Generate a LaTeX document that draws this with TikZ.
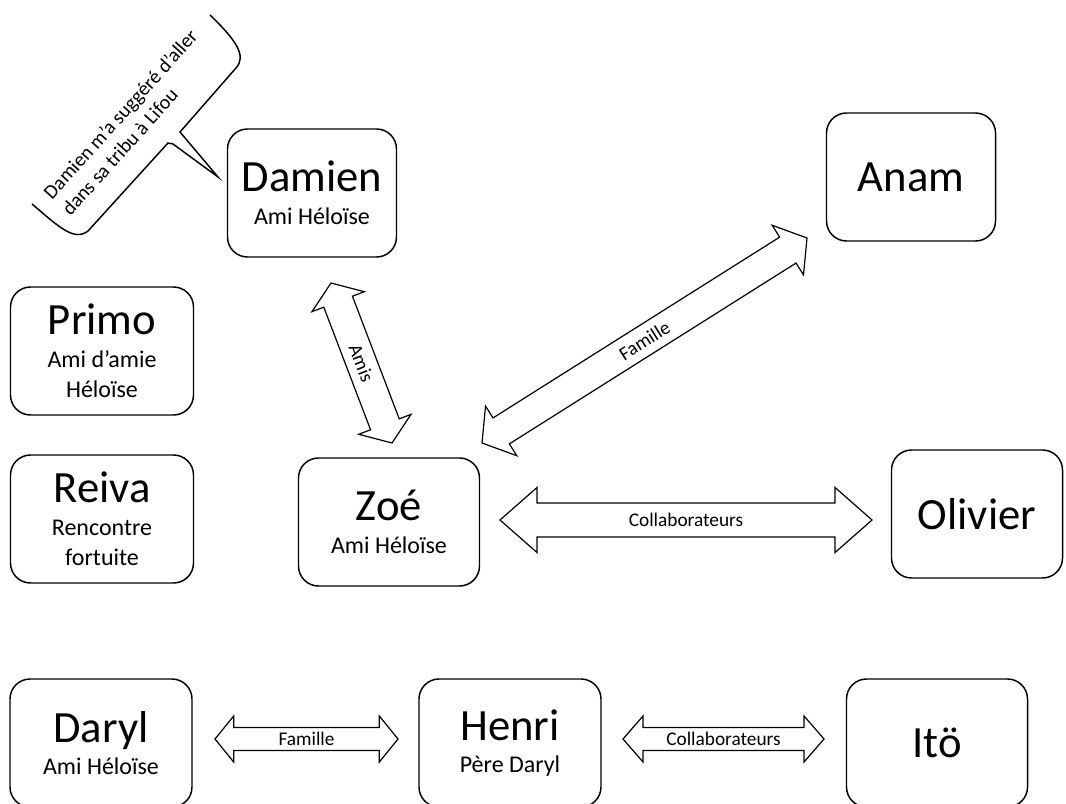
\documentclass[tikz,border=0pt]{standalone}
\usepackage{fontspec}
\setmainfont{Carlito}
\usepackage{tikz}
\usetikzlibrary{calc}

\newcommand{\titre}{\fontsize{33.5}{40}\selectfont}
\newcommand{\sous}{\fontsize{18}{22.5}\selectfont}
\newcommand{\etiquette}{\fontsize{14.5}{17.5}\selectfont}
\newcommand{\bulletexte}{\fontsize{15}{18.5}\selectfont}

\newcommand{\fleche}[6]{%
	\coordinate (#1-b) at ($(#1)!#5!(#2)$);
	\coordinate (#2-b) at ($(#2)!#5!(#1)$);
	\draw[lien] (#1)
		-- ($(#1-b)!#4!90:(#2)$) -- ($(#1-b)!#3!90:(#2)$)
		-- ($(#2-b)!#3!-90:(#1)$) -- ($(#2-b)!#4!-90:(#1)$)
		-- (#2)
		-- ($(#2-b)!#4!90:(#1)$) -- ($(#2-b)!#3!90:(#1)$)
		-- ($(#1-b)!#3!-90:(#2)$) -- ($(#1-b)!#4!-90:(#2)$)
		-- cycle;
	\path (#1) -- (#2) node[midway, sloped, font=\etiquette] (lab-#1) {#6};
}

\begin{document}
\begin{tikzpicture}[x=0.75pt, y=-0.75pt,
		personne/.style={draw, line width=1.1pt, rounded corners=15pt, align=center, font=\sous, inner sep=0pt, minimum height=96pt, minimum width=#1},
		personne/.default=136.5pt,
		lien/.style={draw, line width=0.9pt, fill=white, line join=miter}]
	\useasboundingbox (0,0) rectangle (1066,803);
	
	\node[personne=126.75pt] (damien) at (312,193) {{\titre Damien}\\[2pt]Ami Héloïse};
	\node[personne=126.75pt] (anam) at (911,177) {\titre Anam};
	\node[personne=137.25pt] (primo) at (102,351) {{\titre Primo}\\[2pt]Ami d’amie\\Héloïse};
	\node[personne=137.25pt] (reiva) at (102,519) {{\titre Reiva}\\[2pt]Rencontre\\fortuite};
	\node[personne=135.75pt] (zoe) at (389,522) {{\titre Zoé}\\[2pt]Ami Héloïse};
	\node[personne=128.25pt] (olivier) at (977,514) {\titre Olivier};
	\node[personne] (daryl) at (101,743) {{\titre Daryl}\\[2pt]Ami Héloïse};
	\node[personne] (henri) at (510,743) {{\titre Henri}\\[2pt]Père Daryl};
	\node[personne=135.75pt] (ito) at (937,743) {\titre Itö};
	
	\coordinate (amis1) at (331,283);
	\coordinate (amis2) at (392,443);
	\coordinate (fam1) at (482,443);
	\coordinate (fam2) at (807,238);
	\coordinate (col1) at (500,520);
	\coordinate (col2) at (872,520);
	\coordinate (fam3) at (215,739);
	\coordinate (fam4) at (398,739);
	\coordinate (col3) at (623,739);
	\coordinate (col4) at (824,739);
	
	\fleche{amis1}{amis2}{11.5pt}{21pt}{15pt}{Amis}
	\fleche{fam1}{fam2}{11.5pt}{22pt}{17pt}{Famille}
	\fleche{col1}{col2}{12.75pt}{24.4pt}{27.75pt}{Collaborateurs}
	\fleche{fam3}{fam4}{8.6pt}{17.25pt}{14pt}{Famille}
	\fleche{col3}{col4}{8.6pt}{17.25pt}{15pt}{Collaborateurs}
	
	\draw[line width=1.1pt] (32,204) .. controls (58,226) and (74,242) .. (88,231) -- (168,143) -- (173,144) -- (218,177) -- (180,132) -- (236,68) .. controls (247,56) and (236,40) .. (210,15);
	\node[rotate=48, anchor=west, align=left, inner sep=0pt, font=\bulletexte] (bulle) at (56,204) {Damien m’a suggéré d’aller\\dans sa tribu à Lifou};
\end{tikzpicture}
\end{document}
